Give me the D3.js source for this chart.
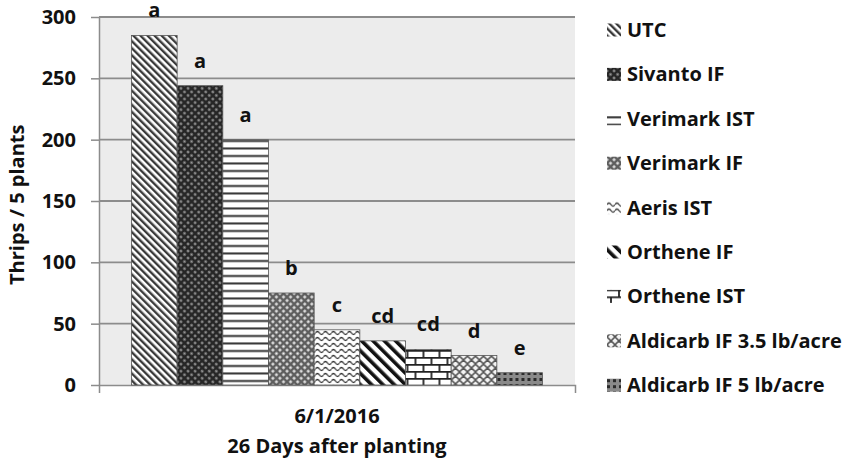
<!DOCTYPE html>
<html>
<head>
<meta charset="utf-8">
<script src="https://cdn.jsdelivr.net/npm/d3@7"></script>
<style>
  body { margin: 0; background: #fff; }
  text { font-family: "Open Sans", Lato, sans-serif; font-weight: 700; fill: #111; }
</style>
</head>
<body>
<div id="chart"></div>
<script>
// data
var categories = ["6/1/2016"];
var treatments = ["UTC", "Sivanto IF", "Verimark IST", "Verimark IF", "Aeris IST",
    "Orthene IF", "Orthene IST", "Aldicarb IF 3.5 lb/acre", "Aldicarb IF 5 lb/acre"];
var thrips = [285, 244, 200, 75, 45, 36, 29, 24, 10];
var letters = ["a", "a", "a", "b", "c", "cd", "cd", "d", "e"];
var yTicks = [0, 50, 100, 150, 200, 250, 300];

var width = 855, height = 471;
var plot = {left: 99, right: 575, top: 17, bottom: 385};

var svg = d3.select("#chart")
    .append("svg")
    .attr("width", width)
    .attr("height", height);

// fill patterns, one per treatment
var defs = svg.append("defs");

function pat(id, w, h, transform) {
    var p = defs.append("pattern")
        .attr("id", id)
        .attr("patternUnits", "userSpaceOnUse")
        .attr("width", w)
        .attr("height", h);
    if (transform) p.attr("patternTransform", transform);
    return p;
}

// UTC - fine back diagonal
var p0 = pat("p0", 5, 5, "rotate(-45)");
p0.append("rect").attr("width", 5).attr("height", 5).attr("fill", "#fff");
p0.append("rect").attr("width", 2.4).attr("height", 5).attr("fill", "#3a3a3a");

// Sivanto IF - dark with light dots
var p1 = pat("p1", 5, 5, "rotate(45)");
p1.append("rect").attr("width", 5).attr("height", 5).attr("fill", "#262626");
p1.append("circle").attr("cx", 2.5).attr("cy", 2.5).attr("r", 1.3).attr("fill", "#9a9a9a");

// Verimark IST - horizontal lines
var p2 = pat("p2", 8, 7.5);
p2.append("rect").attr("width", 8).attr("height", 7.5).attr("fill", "#fff");
p2.append("rect").attr("y", 5).attr("width", 8).attr("height", 2).attr("fill", "#333");

// Verimark IF - gray diamond net
var p3 = pat("p3", 5, 5, "rotate(45)");
p3.append("rect").attr("width", 5).attr("height", 5).attr("fill", "#5e5e5e");
p3.append("rect").attr("x", 1.3).attr("y", 1.3).attr("width", 2.4).attr("height", 2.4).attr("fill", "#f2f2f2");

// Aeris IST - waves
var p4 = pat("p4", 8, 6);
p4.append("rect").attr("width", 8).attr("height", 6).attr("fill", "#fff");
p4.append("path").attr("d", "M0,3 Q2,0 4,3 T8,3")
    .attr("fill", "none").attr("stroke", "#333").attr("stroke-width", 1.3);

// Orthene IF - wide back diagonal
var p5 = pat("p5", 8, 8, "rotate(-45)");
p5.append("rect").attr("width", 8).attr("height", 8).attr("fill", "#fff");
p5.append("rect").attr("width", 3.6).attr("height", 8).attr("fill", "#111");

// Orthene IST - bricks
var p6 = pat("p6", 16, 14);
p6.append("rect").attr("width", 16).attr("height", 14).attr("fill", "#fff");
p6.append("path").attr("d", "M0,0.8H16M0,7.8H16M4,0V7M12,7V14")
    .attr("fill", "none").attr("stroke", "#222").attr("stroke-width", 1.8);

// Aldicarb 3.5 - weave
var p7 = pat("p7", 8, 8);
p7.append("rect").attr("width", 8).attr("height", 8).attr("fill", "#f4f4f4");
p7.append("path").attr("d", "M0,4 L4,0 M4,8 L8,4 M4,0 L8,4 M0,4 L4,8")
    .attr("fill", "none").attr("stroke", "#555").attr("stroke-width", 1.6);

// Aldicarb 5 - small dark checks
var p8 = pat("p8", 6, 6);
p8.append("rect").attr("width", 6).attr("height", 6).attr("fill", "#8a8a8a");
p8.append("rect").attr("width", 3).attr("height", 3).attr("fill", "#2a2a2a");

var fills = treatments.map(function(d, i) { return "url(#p" + i + ")"; });

// plot background
svg.append("rect")
    .attr("x", plot.left)
    .attr("y", plot.top)
    .attr("width", plot.right - plot.left)
    .attr("height", plot.bottom - plot.top)
    .attr("fill", "#ececec");

// scales
var y = d3.scaleLinear()
    .domain([0, 300])
    .range([plot.bottom, plot.top]);

var x0 = d3.scaleBand()
    .domain(categories)
    .range([plot.left, plot.right])
    .paddingInner(0)
    .paddingOuter(0.079);

var x1 = d3.scaleBand()
    .domain(treatments)
    .range([0, x0.bandwidth()]);

// gridlines
svg.append("g")
    .selectAll("line")
    .data(yTicks.filter(function(d) { return d > 0; }))
    .enter()
    .append("line")
    .attr("x1", plot.left)
    .attr("x2", plot.right)
    .attr("y1", function(d) { return y(d); })
    .attr("y2", function(d) { return y(d); })
    .attr("stroke", "#8c8c8c")
    .attr("stroke-width", 1.8);

// Y axis
var yAxis = svg.append("g")
    .attr("transform", "translate(" + plot.left + ",0)")
    .call(d3.axisLeft(y).tickValues(yTicks).tickSize(8).tickPadding(15).tickSizeOuter(0));
yAxis.select(".domain").attr("stroke", "#8c8c8c").attr("stroke-width", 1.5);
yAxis.selectAll(".tick line").attr("stroke", "#8c8c8c").attr("stroke-width", 1.5);
yAxis.selectAll("text")
    .attr("font-family", "'Open Sans', sans-serif")
    .attr("font-weight", 700)
    .attr("font-size", 20)
    .attr("fill", "#111");

// X axis
var xAxis = svg.append("g")
    .attr("transform", "translate(0," + plot.bottom + ")")
    .call(d3.axisBottom(x0).tickSize(0).tickPadding(24).tickSizeOuter(8));
xAxis.select(".domain").attr("stroke", "#8c8c8c").attr("stroke-width", 1.5);
xAxis.selectAll("text")
    .attr("font-family", "'Open Sans', sans-serif")
    .attr("font-weight", 700)
    .attr("font-size", 20)
    .attr("fill", "#111");

// bars
var group = svg.append("g")
    .attr("transform", "translate(" + x0(categories[0]) + ",0)");

group.selectAll("rect")
    .data(thrips)
    .enter()
    .append("rect")
    .attr("x", function(d, i) { return x1(treatments[i]); })
    .attr("y", function(d) { return y(d); })
    .attr("width", x1.bandwidth())
    .attr("height", function(d) { return y(0) - y(d); })
    .attr("fill", function(d, i) { return fills[i]; })
    .attr("stroke", "#555")
    .attr("stroke-width", 0.8);

// significance letters
group.selectAll("text.sig")
    .data(thrips)
    .enter()
    .append("text")
    .attr("class", "sig")
    .attr("x", function(d, i) { return x1(treatments[i]) + x1.bandwidth() / 2; })
    .attr("y", function(d) { return y(d) - 18; })
    .attr("text-anchor", "middle")
    .attr("font-size", 20)
    .text(function(d, i) { return letters[i]; });

// axis titles
svg.append("text")
    .attr("transform", "translate(24,285) rotate(-90)")
    .attr("text-anchor", "start")
    .attr("font-size", 20)
    .text("Thrips / 5 plants");

svg.append("text")
    .attr("x", (plot.left + plot.right) / 2)
    .attr("y", 453)
    .attr("text-anchor", "middle")
    .attr("font-size", 20)
    .text("26 Days after planting");

// legend
var legend = svg.append("g")
    .selectAll("g")
    .data(treatments)
    .enter()
    .append("g")
    .attr("transform", function(d, i) { return "translate(607," + (30 + i * 44.4) + ")"; });

legend.append("rect")
    .attr("x", 0)
    .attr("y", -6.5)
    .attr("width", 14)
    .attr("height", 13)
    .attr("fill", function(d, i) { return fills[i]; });

legend.append("text")
    .attr("x", 20)
    .attr("y", 7)
    .attr("font-size", 20)
    .text(function(d) { return d; });
</script>
</body>
</html>
